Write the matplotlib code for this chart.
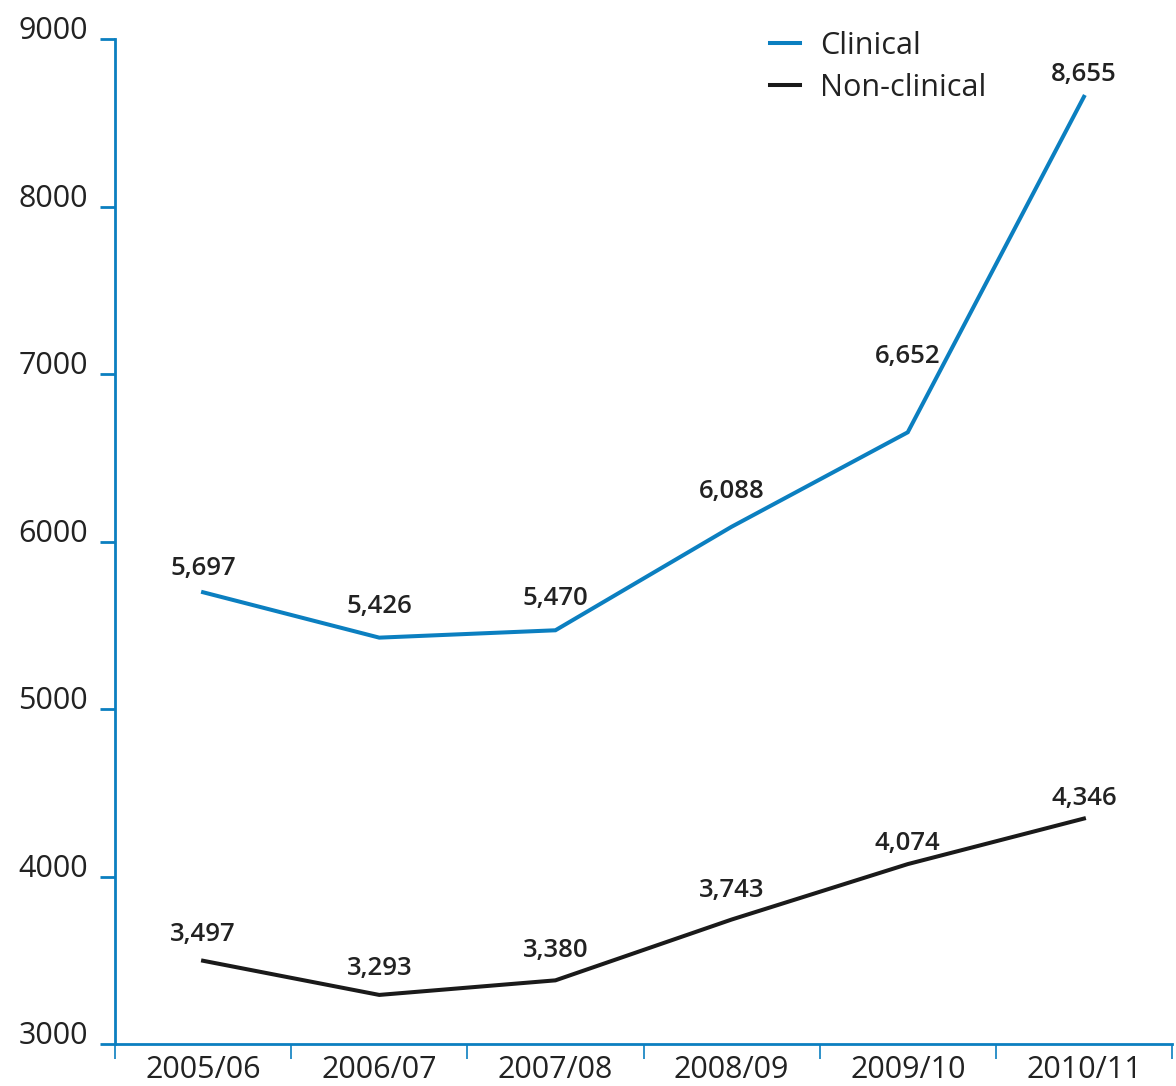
import matplotlib.pyplot as plt
import numpy as np

# Staff numbers by year
years = ['2005/06', '2006/07', '2007/08', '2008/09', '2009/10', '2010/11']
clinical = [5697, 5426, 5470, 6088, 6652, 8655]
non_clinical = [3497, 3293, 3380, 3743, 4074, 4346]
y_ticks = [3000, 4000, 5000, 6000, 7000, 8000, 9000]

# label offsets above each point (pixels)
clin_off = [24, 31, 32, 35, 76, 22]
non_off = [26, 26, 30, 29, 21, 20]

blue = '#0b7fc0'
black = '#1a1a1a'
text_col = '#222222'

plt.rcParams['font.family'] = ['Open Sans', 'DejaVu Sans']

fig = plt.figure(figsize=(11.76, 10.86), dpi=100)
ax = fig.add_axes([115 / 1176, 42 / 1086, 1057 / 1176, 1005 / 1086])

x = np.arange(len(years))
ax.plot(x, clinical, color=blue, lw=2.9, label='Clinical', solid_joinstyle='miter')
ax.plot(x, non_clinical, color=black, lw=2.9, label='Non-clinical', solid_joinstyle='miter')

for xi, v, off in zip(x, clinical, clin_off):
    ax.annotate(f'{v:,}', (xi, v), xytext=(0, off), textcoords='offset pixels',
                ha='center', va='center', fontsize=18.5, fontweight='semibold', color=text_col)
for xi, v, off in zip(x, non_clinical, non_off):
    ax.annotate(f'{v:,}', (xi, v), xytext=(0, off), textcoords='offset pixels',
                ha='center', va='center', fontsize=18.5, fontweight='semibold', color=text_col)

ax.set_xlim(-0.5, len(years) - 0.5)
ax.set_ylim(3000, 9000)

# category labels centred, tick marks on the boundaries
ax.set_xticks(x)
ax.set_xticklabels(years, fontsize=22, color=text_col)
ax.set_xticks(np.arange(len(years) + 1) - 0.5, minor=True)
ax.tick_params(axis='x', which='major', length=0, pad=8)
ax.tick_params(axis='x', which='minor', length=11, width=1.2, color=blue, direction='out')

ax.set_yticks(y_ticks)
ax.set_yticklabels([str(t) for t in y_ticks], fontsize=22, color=text_col)
ax.tick_params(axis='y', length=11, width=2, color=blue, direction='out', pad=8.6)
for lbl in ax.get_yticklabels():
    lbl.set_verticalalignment('baseline')

for side in ['top', 'right']:
    ax.spines[side].set_visible(False)
for side in ['left', 'bottom']:
    ax.spines[side].set_color(blue)
    ax.spines[side].set_linewidth(2)

leg = ax.legend(loc='upper left', bbox_to_anchor=(742 / 1176, 1083 / 1086),
                bbox_transform=fig.transFigure, frameon=False, fontsize=22,
                handlelength=1.0, handletextpad=0.65, labelspacing=0.4)
for t in leg.get_texts():
    t.set_color(text_col)

fig.savefig('out.png', dpi=100)
